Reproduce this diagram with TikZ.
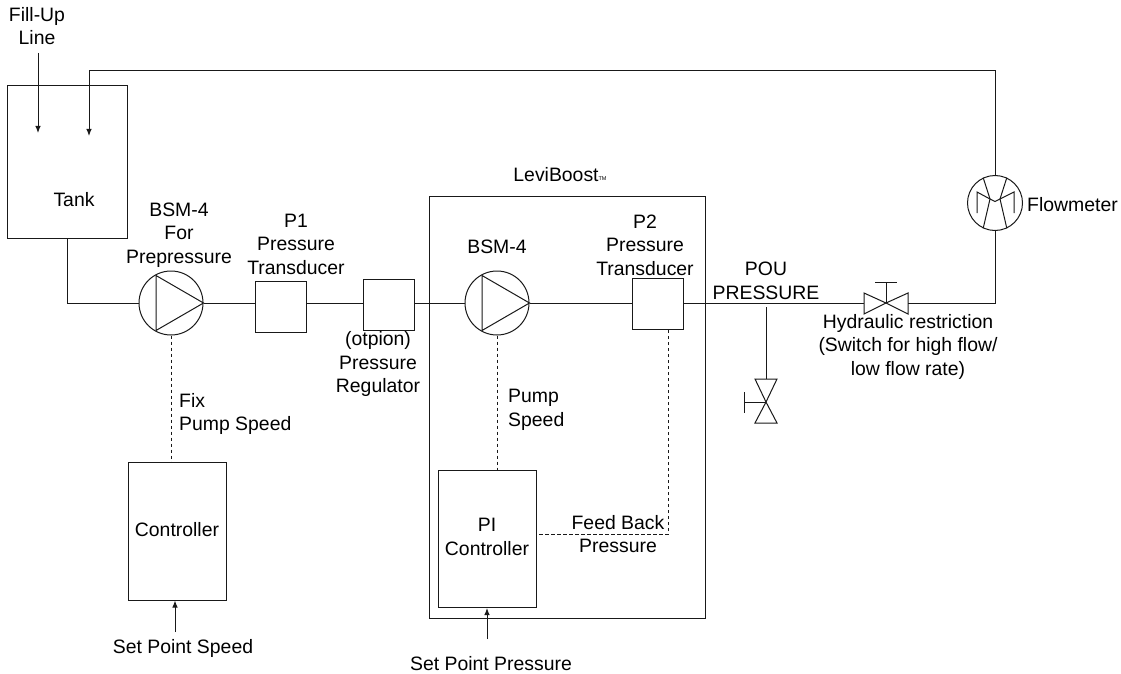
\documentclass[tikz,border=0pt]{standalone}
\usepackage{fontspec}
\setmainfont{Liberation Sans}
\usetikzlibrary{arrows.meta}
\tikzset{
 x=1pt,y=-1pt,
 ln/.style={draw=black!90,line width=1pt},
 dsh/.style={draw=black!90,line width=1pt,dash pattern=on 3.5pt off 2.5pt},
 arr/.style={ln,-{Latex[length=7pt,width=5.5pt]}},
 lb/.style={align=center,inner sep=0pt,font=\fontsize{19.4}{23.5}\selectfont,text=black},
}
\begin{document}
\begin{tikzpicture}
\useasboundingbox (0,0) rectangle (1121,674);
\coordinate (tankNW) at (7,86); \coordinate (tankSE) at (127,238);
\draw[ln] (tankNW) rectangle (tankSE);
\coordinate (leviNW) at (429,196); \coordinate (leviSE) at (705,618);
\draw[ln] (leviNW) rectangle (leviSE);
\node[ln,circle,minimum size=64pt,inner sep=0pt] (pumpA) at (171,303) {};
\node[ln,circle,minimum size=64pt,inner sep=0pt] (pumpB) at (497,303) {};
\node[ln,minimum width=51pt,minimum height=51pt,inner sep=0pt] (pOne) at (281,307) {};
\node[ln,minimum width=51pt,minimum height=51pt,inner sep=0pt] (reg) at (388.5,304.5) {};
\node[ln,minimum width=51pt,minimum height=51pt,inner sep=0pt] (pTwo) at (657.5,304) {};
\node[ln,minimum width=98pt,minimum height=138pt,inner sep=0pt] (ctrl) at (177,531) {};
\node[ln,minimum width=98pt,minimum height=137pt,inner sep=0pt] (pi) at (487,538.5) {};
\node[ln,circle,minimum size=55pt,inner sep=0pt] (flow) at (995,203) {};
% pump triangles
\draw[ln] (156,275.5) -- (pumpA.east) -- (156,330.5) -- cycle;
\draw[ln] (482,275.5) -- (pumpB.east) -- (482,330.5) -- cycle;
% flowmeter glyph
\coordinate (fl) at (990,199); \coordinate (fr) at (1000,199);
\draw[ln] (flow.115) -- (fl) -- (flow.245);
\draw[ln] (flow.65) -- (fr) -- (flow.295);
\draw[ln] (977,213) -- (977,192) -- (fl) -- (995,201.5) -- (fr) -- (1014,192) -- (1014,213);
% main line
\coordinate (tankOut) at (67,238);
\coordinate (c1) at (67,303);
\draw[ln] (tankOut) -- (c1) -- (pumpA.west);
\draw[ln] (pumpA.east) -- (pOne.west |- pumpA.east);
\draw[ln] (pOne.east |- pumpA.east) -- (reg.west |- pumpA.east);
\draw[ln] (reg.east |- pumpA.east) -- (pumpB.west);
\draw[ln] (pumpB.east) -- (pTwo.west |- pumpB.east);
% restriction valve
\coordinate (vc) at (886,303);
\draw[ln] (vc) -- (864,293) -- (864,314) -- cycle;
\draw[ln] (vc) -- (908,293) -- (908,314) -- cycle;
\draw[ln] (vc) -- (886,282);
\draw[ln] (875,282) -- (897,282);
\draw[ln] (pTwo.east |- vc) -- (864,303);
\coordinate (c2) at (995,303);
\draw[ln] (908,303) -- (c2) -- (flow.south);
% return
\coordinate (c3) at (995,71); \coordinate (c4) at (89,71);
\draw[ln] (flow.north) -- (c3) -- (c4);
\draw[arr] (c4) -- (89,136);
\coordinate (fillA) at (38,53); \coordinate (fillB) at (38,133);
\draw[arr] (fillA) -- (fillB);
% drain valve
\coordinate (dv) at (766,402);
\draw[ln] (766,307) -- (766,379);
\draw[ln] (dv) -- (755,379) -- (777,379) -- cycle;
\draw[ln] (dv) -- (755,423) -- (777,423) -- cycle;
\draw[ln] (dv) -- (744,402);
\draw[ln] (744,392) -- (744,413);
% dashed signals
\draw[dsh] (pumpA.south) -- (ctrl.north -| pumpA.south);
\draw[dsh] (pumpB.south) -- (pi.north -| pumpB.south);
\coordinate (fb) at (668,534);
\draw[dsh] (539,534) -- (fb) -- (fb |- pTwo.south);
% set points
\coordinate (spA) at (175,632); \coordinate (spB) at (487,639);
\draw[arr] (spA) -- (spA |- ctrl.south);
\draw[arr] (spB) -- (487,608);
% labels
\node[lb] (t1) at (37,26) {Fill-Up\\Line};
\node[lb] (t2) at (74,200) {Tank};
\node[lb] (t3) at (179,235) {BSM-4\\For\\Prepressure};
\node[lb] (t4) at (296,244) {P1\\Pressure\\Transducer};
\node[lb] (t5) at (378,364) {(otpion)\\Pressure\\Regulator};
\node[lb] (t6) at (497,247) {BSM-4};
\node[lb] (t7) at (645,245) {P2\\Pressure\\Transducer};
\node[lb] (t8) at (560,175) {LeviBoost\raisebox{1pt}{\fontsize{5.5}{5.5}\selectfont TM}};
\node[lb] (t9) at (766,281) {POU\\PRESSURE};
\node[lb] (t10) at (908,346.5) {Hydraulic restriction\\(Switch for high flow/\\low flow rate)};
\node[lb,anchor=west] (t11) at (1027,205) {Flowmeter};
\node[lb,align=left,anchor=west] (t12) at (179,414) {Fix\\Pump Speed};
\node[lb,align=left,anchor=west] (t13) at (508,410) {Pump\\Speed};
\node[lb] (t14) at (177,530) {Controller};
\node[lb] (t15) at (487,537) {PI\\Controller};
\node[lb] (t16) at (618,534) {Feed Back\\Pressure};
\node[lb] (t17) at (183,648) {Set Point Speed};
\node[lb] (t18) at (491,664) {Set Point Pressure};
\end{tikzpicture}
\end{document}
